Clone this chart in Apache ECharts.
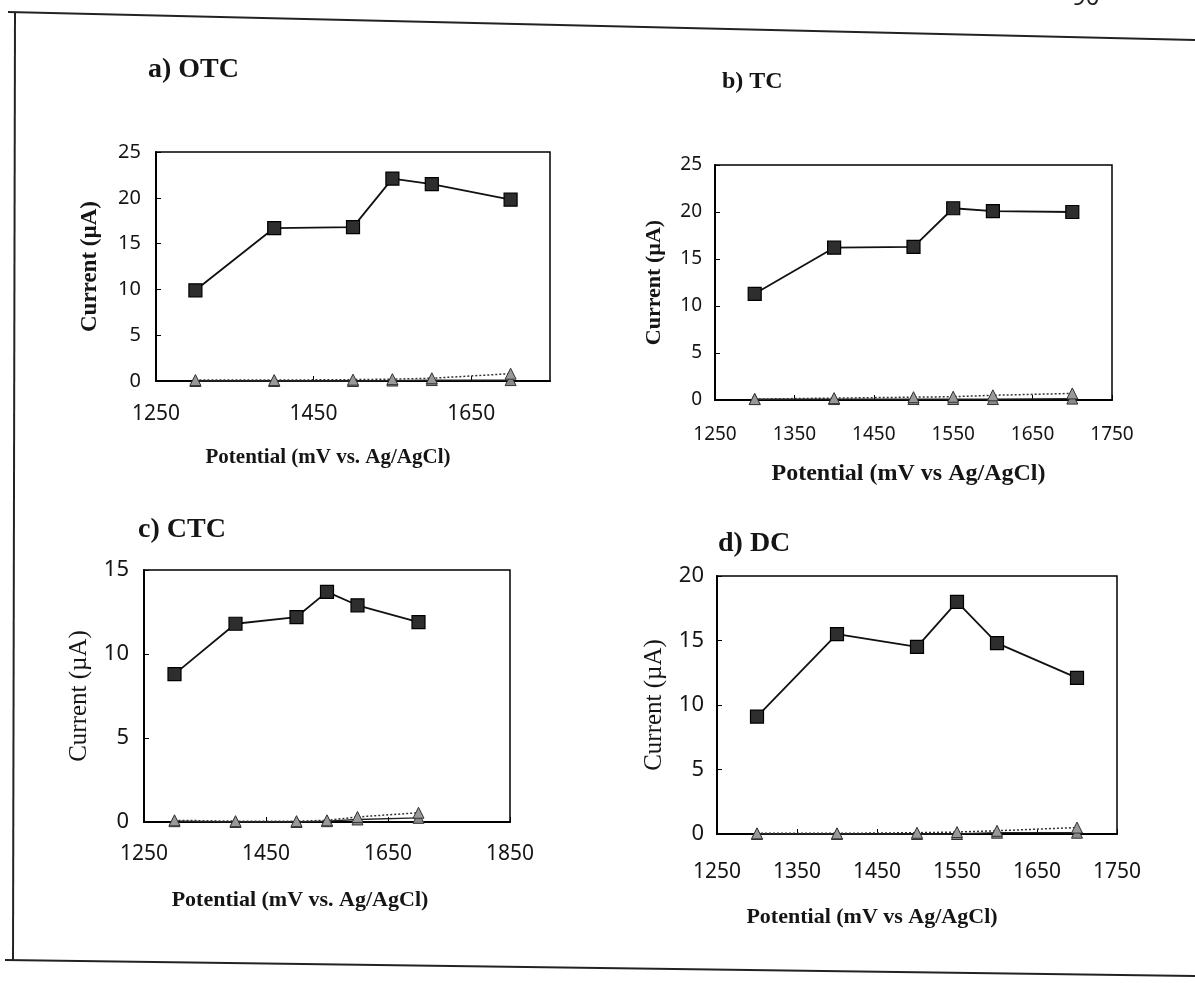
<!DOCTYPE html>
<html>
<head>
<meta charset="utf-8">
<title>Current vs. potential</title>
<script src="https://cdn.jsdelivr.net/npm/echarts@6/dist/echarts.min.js"></script>
<style>
  html, body { margin: 0; padding: 0; background: #fff; }
  #chart { width: 1195px; height: 983px; }
</style>
</head>
<body>
<div id="chart"></div>
<script>
// Applied potential (mV vs. Ag/AgCl), same for every panel
const potentials = [1300, 1400, 1500, 1550, 1600, 1700];

// Peak current (µA) per compound
const otcCurrent = [9.9, 16.7, 16.8, 22.1, 21.5, 19.8];
const tcCurrent  = [11.3, 16.2, 16.3, 20.4, 20.1, 20.0];
const ctcCurrent = [8.8, 11.8, 12.2, 13.7, 12.9, 11.9];
const dcCurrent  = [9.1, 15.5, 14.5, 18.0, 14.8, 12.1];

// Background currents (µA): solid and dotted traces near zero
const otcBackground1 = [0.0, 0.0, 0.0, 0.05, 0.1, 0.1];
const otcBackground2 = [0.1, 0.1, 0.15, 0.2, 0.3, 0.8];
const tcBackground1  = [0.1, 0.1, 0.1, 0.1, 0.1, 0.15];
const tcBackground2  = [0.1, 0.2, 0.3, 0.35, 0.5, 0.7];
const ctcBackground1 = [0.05, 0.0, 0.0, 0.05, 0.15, 0.25];
const ctcBackground2 = [0.1, 0.05, 0.05, 0.1, 0.3, 0.55];
const dcBackground1  = [0.0, 0.0, 0.0, 0.0, 0.1, 0.1];
const dcBackground2  = [0.05, 0.05, 0.1, 0.15, 0.25, 0.5];

// Panel titles and axis texts
const panelTitles = ['a) OTC', 'b) TC', 'c) CTC', 'd) DC'];
const xAxisNames = [
  'Potential (mV vs. Ag/AgCl)',
  'Potential (mV vs Ag/AgCl)',
  'Potential (mV vs. Ag/AgCl)',
  'Potential (mV vs Ag/AgCl)'
];
const yAxisName = 'Current (µA)';

// Axis ranges per panel: [xMin, xMax, xStep, yMax, yStep]
const axisRanges = [
  [1250, 1750, 200, 25, 5],
  [1250, 1750, 100, 25, 5],
  [1250, 1850, 200, 15, 5],
  [1250, 1750, 100, 20, 5]
];

const currents = [otcCurrent, tcCurrent, ctcCurrent, dcCurrent];
const background1 = [otcBackground1, tcBackground1, ctcBackground1, dcBackground1];
const background2 = [otcBackground2, tcBackground2, ctcBackground2, dcBackground2];

// Layout and typography of each panel
const layout = [
  { grid: [156, 152, 394, 229], title: [148, 56, 28], yl: [20, 15], xl: [21, 23], yName: [23, 'bold', 54], xName: [21, 66, 50], showMax: false },
  { grid: [715, 165, 397, 235], title: [722, 70, 24], yl: [19, 13], xl: [19, 25], yName: [22, 'bold', 50], xName: [24, 62, 10], showMax: true },
  { grid: [144, 570, 366, 252], title: [138, 516, 28], yl: [22, 15], xl: [21, 22], yName: [25, 'normal', 52], xName: [22, 67, 54], showMax: true },
  { grid: [717, 576, 400, 258], title: [718, 530, 28], yl: [22, 13], xl: [21, 28], yName: [25, 'normal', 50], xName: [22, 72, 90], showMax: true }
];

const ink = '#151515';
const plainNumber = v => String(v);
const grids = [], xAxes = [], yAxes = [], titles = [], series = [];

layout.forEach((L, i) => {
  const [xMin, xMax, xStep, yMax, yStep] = axisRanges[i];
  grids.push({
    left: L.grid[0], top: L.grid[1], width: L.grid[2], height: L.grid[3],
    show: true, borderColor: '#000', borderWidth: 1.5, backgroundColor: 'transparent'
  });
  titles.push({
    text: panelTitles[i], left: L.title[0], top: L.title[1], padding: 0,
    textStyle: { fontFamily: 'Liberation Serif', fontWeight: 'bold', fontSize: L.title[2], color: ink }
  });
  xAxes.push({
    gridIndex: i, type: 'value', min: xMin, max: xMax, interval: xStep,
    axisLine: { show: true, onZero: false, lineStyle: { color: '#000', width: 2 } },
    axisTick: { show: true, inside: true, length: 5, lineStyle: { color: '#000', width: 1 } },
    axisLabel: { fontFamily: 'Noto Sans', fontSize: L.xl[0], color: ink, margin: L.xl[1], showMaxLabel: L.showMax, formatter: plainNumber },
    splitLine: { show: false },
    name: xAxisNames[i], nameLocation: 'middle', nameGap: L.xName[1],
    nameTextStyle: { fontFamily: 'Liberation Serif', fontWeight: 'bold', fontSize: L.xName[0], color: ink, padding: [0, L.xName[2], 0, 0] }
  });
  yAxes.push({
    gridIndex: i, type: 'value', min: 0, max: yMax, interval: yStep,
    axisLine: { show: true, lineStyle: { color: '#000', width: 2 } },
    axisTick: { show: true, inside: true, length: 5, lineStyle: { color: '#000', width: 1 } },
    axisLabel: { fontFamily: 'Noto Sans', fontSize: L.yl[0], color: ink, margin: L.yl[1], formatter: plainNumber },
    splitLine: { show: false },
    name: yAxisName, nameLocation: 'middle', nameGap: L.yName[2],
    nameTextStyle: { fontFamily: 'Liberation Serif', fontWeight: L.yName[1], fontSize: L.yName[0], color: ink }
  });

  const pairs = arr => potentials.map((p, k) => [p, arr[k]]);
  series.push({
    type: 'line', xAxisIndex: i, yAxisIndex: i, data: pairs(background1[i]),
    symbol: 'triangle', symbolSize: 11, clip: false, z: 3,
    lineStyle: { color: '#222', width: 1.3 },
    itemStyle: { color: '#8a8a8a', borderColor: '#333', borderWidth: 1 }
  });
  series.push({
    type: 'line', xAxisIndex: i, yAxisIndex: i, data: pairs(background2[i]),
    symbol: 'triangle', symbolSize: 11, clip: false, z: 3,
    lineStyle: { color: '#333', width: 1.5, type: [2, 2] },
    itemStyle: { color: '#999', borderColor: '#333', borderWidth: 1 }
  });
  series.push({
    type: 'line', xAxisIndex: i, yAxisIndex: i, data: pairs(currents[i]),
    symbol: 'rect', symbolSize: 13, z: 4,
    lineStyle: { color: '#111', width: 1.8 },
    itemStyle: { color: '#2e2e2e', borderColor: '#000', borderWidth: 1.2 }
  });
});

const chart = echarts.init(document.getElementById('chart'), null, { renderer: 'canvas' });
chart.setOption({
  backgroundColor: '#fff',
  animation: false,
  title: titles,
  grid: grids,
  xAxis: xAxes,
  yAxis: yAxes,
  series: series,
  graphic: [
    // page frame around the four panels
    { type: 'polyline', silent: true, shape: { points: [[8, 12], [1195, 40]] }, style: { stroke: '#222', lineWidth: 2, fill: null } },
    { type: 'polyline', silent: true, shape: { points: [[15, 12], [13, 960]] }, style: { stroke: '#222', lineWidth: 2, fill: null } },
    { type: 'polyline', silent: true, shape: { points: [[5, 960], [1195, 976]] }, style: { stroke: '#222', lineWidth: 2, fill: null } },
    // page number
    { type: 'text', silent: true, left: 1072, top: -14, style: { text: '90', font: '24px "Noto Sans"', fill: '#222' } }
  ]
});
</script>
</body>
</html>
